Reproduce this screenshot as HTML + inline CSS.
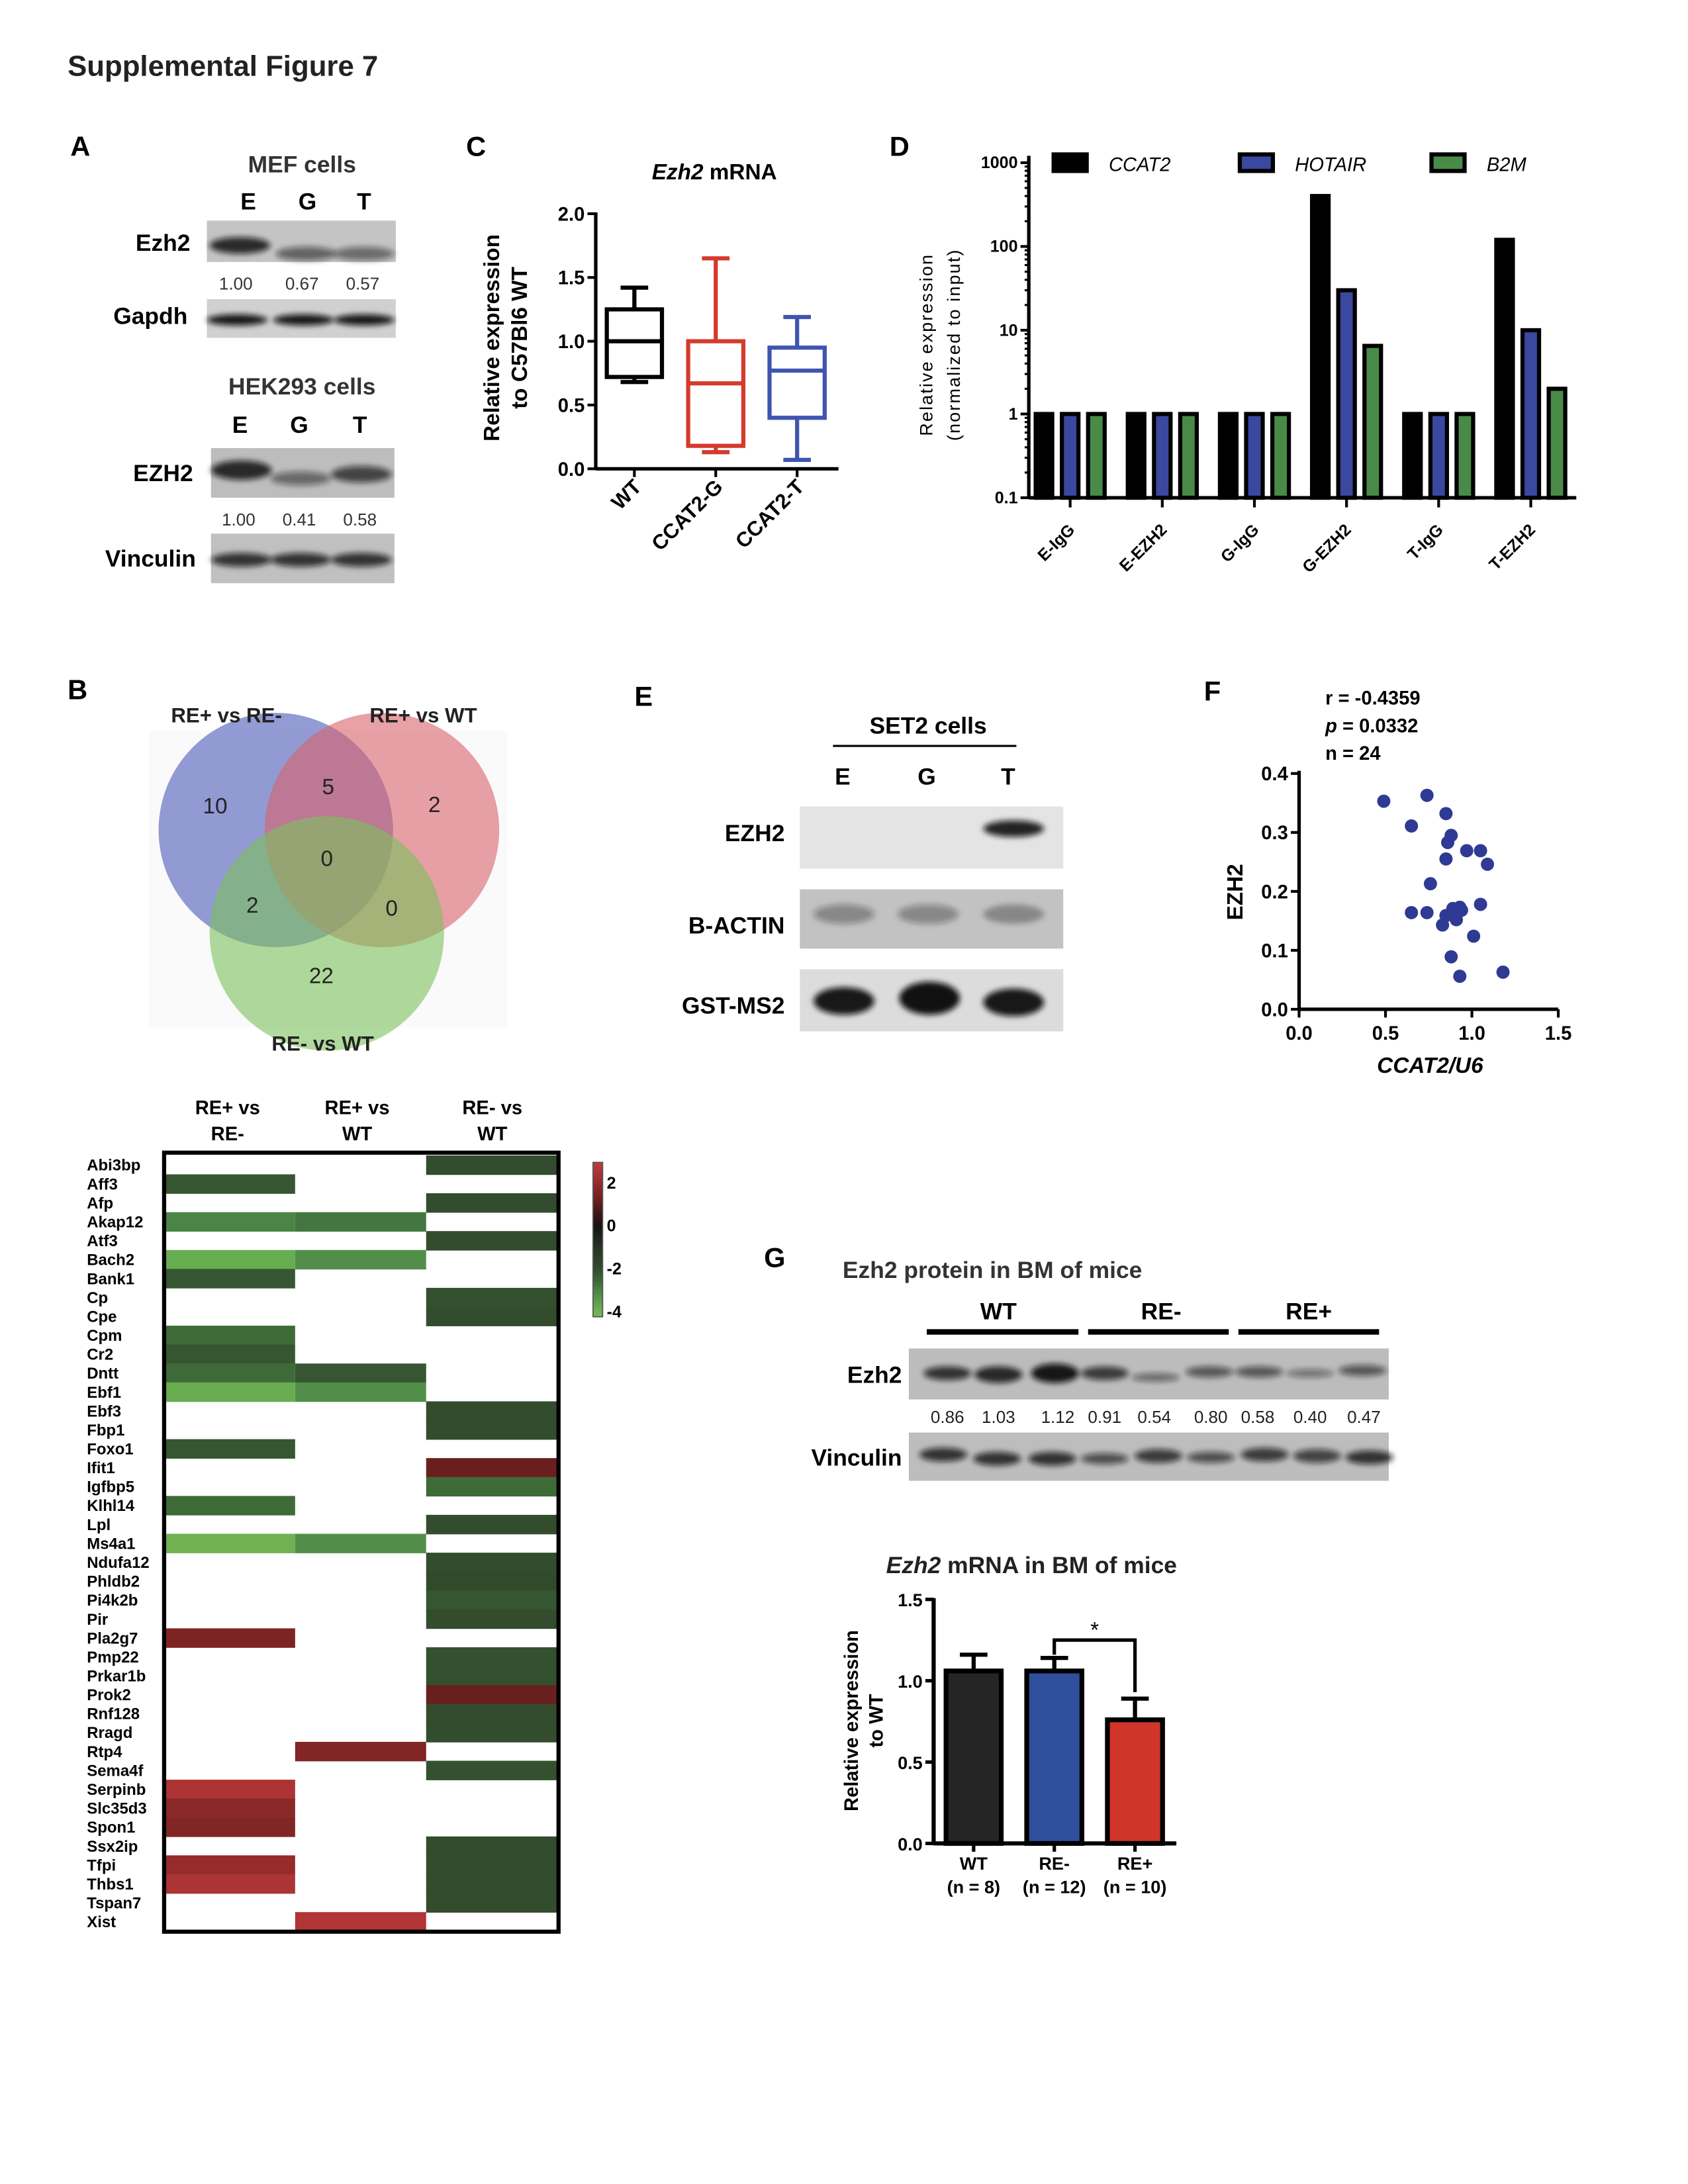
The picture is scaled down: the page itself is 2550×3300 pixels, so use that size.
<!DOCTYPE html>
<html><head><meta charset="utf-8"><style>
html,body{margin:0;padding:0;background:#fff;width:2550px;height:3300px;overflow:hidden}
svg{display:block}
text{font-family:"Liberation Sans",Arial,sans-serif}
.b{font-weight:bold}
</style></head><body>
<svg id="fig" width="2550" height="3300" viewBox="0 0 1224 1584" xmlns="http://www.w3.org/2000/svg">
<defs>
<filter id="blur1" x="-20%" y="-50%" width="140%" height="200%"><feGaussianBlur stdDeviation="2"/></filter>
</defs>
<text x="49" y="55" font-size="21" class="b" fill="#222">Supplemental Figure 7</text>

<text x="51" y="113" font-size="20" class="b">A</text>
<text x="338" y="113" font-size="20" class="b">C</text>
<text x="645" y="113" font-size="20" class="b">D</text>
<text x="49" y="507" font-size="20" class="b">B</text>
<text x="460" y="512" font-size="20" class="b">E</text>
<text x="873" y="508" font-size="20" class="b">F</text>
<text x="554" y="919" font-size="20" class="b">G</text>

<g id="panelA" font-size="17">
<text x="219" y="125" text-anchor="middle" class="b" fill="#333">MEF cells</text>
<text x="180" y="152" text-anchor="middle" class="b">E</text>
<text x="223" y="152" text-anchor="middle" class="b">G</text>
<text x="264" y="152" text-anchor="middle" class="b">T</text>
<text x="138" y="182" text-anchor="end" class="b">Ezh2</text>
<text x="136" y="235" text-anchor="end" class="b">Gapdh</text>
<g font-size="12.5" fill="#333"><text x="171" y="210" text-anchor="middle">1.00</text><text x="219" y="210" text-anchor="middle">0.67</text><text x="263" y="210" text-anchor="middle">0.57</text></g>
<text x="219" y="286" text-anchor="middle" class="b" fill="#333">HEK293 cells</text>
<text x="174" y="314" text-anchor="middle" class="b">E</text>
<text x="217" y="314" text-anchor="middle" class="b">G</text>
<text x="261" y="314" text-anchor="middle" class="b">T</text>
<text x="140" y="349" text-anchor="end" class="b">EZH2</text>
<text x="142" y="411" text-anchor="end" class="b">Vinculin</text>
<g font-size="12.5" fill="#333"><text x="173" y="381" text-anchor="middle">1.00</text><text x="217" y="381" text-anchor="middle">0.41</text><text x="261" y="381" text-anchor="middle">0.58</text></g>
</g>

<g id="panelC">
<text x="518" y="130" text-anchor="middle" font-size="16" class="b"><tspan font-style="italic">Ezh2</tspan> mRNA</text>
<text transform="translate(362,245) rotate(-90)" text-anchor="middle" font-size="16" class="b"><tspan x="0" y="0">Relative expression</tspan><tspan x="0" y="20">to C57Bl6 WT</tspan></text>
</g>

<g id="panelD">
<text transform="translate(676,250) rotate(-90)" text-anchor="middle" font-size="13" letter-spacing="1"><tspan x="0" y="0">Relative expression</tspan><tspan x="0" y="20">(normalized to input)</tspan></text>
</g>

<g id="panelB">
<rect x="108" y="530" width="260" height="215" fill="#f7f7f7" opacity="0.6"/>
<circle cx="200" cy="602" r="85" fill="#6a74c4" fill-opacity="0.72"/>
<circle cx="277" cy="602" r="85" fill="#d8626a" fill-opacity="0.6"/>
<circle cx="237" cy="677" r="85" fill="#7cc25c" fill-opacity="0.6"/>
<g font-size="16" fill="#222">
<text x="124" y="524" class="b" font-size="15">RE+ vs RE-</text>
<text x="268" y="524" class="b" font-size="15">RE+ vs WT</text>
<text x="197" y="762" class="b" font-size="15">RE- vs WT</text>
<text x="156" y="590" text-anchor="middle">10</text>
<text x="238" y="576" text-anchor="middle">5</text>
<text x="315" y="589" text-anchor="middle">2</text>
<text x="237" y="628" text-anchor="middle">0</text>
<text x="183" y="662" text-anchor="middle">2</text>
<text x="284" y="664" text-anchor="middle">0</text>
<text x="233" y="713" text-anchor="middle">22</text>
</g>
</g>

<g id="heatmap">
<g font-size="14" class="b" text-anchor="middle">
<text x="165" y="808"><tspan x="165">RE+ vs</tspan><tspan x="165" dy="19">RE-</tspan></text>
<text x="259" y="808"><tspan x="259">RE+ vs</tspan><tspan x="259" dy="19">WT</tspan></text>
<text x="357" y="808"><tspan x="357">RE- vs</tspan><tspan x="357" dy="19">WT</tspan></text>
</g>
</g>

<g id="panelE" font-size="17" class="b">
<text x="673" y="532" text-anchor="middle" class="b">SET2 cells</text>
<line x1="604" y1="541" x2="737" y2="541" stroke="#000" stroke-width="1.5"/>
<text x="611" y="569" text-anchor="middle" class="b">E</text>
<text x="672" y="569" text-anchor="middle" class="b">G</text>
<text x="731" y="569" text-anchor="middle" class="b">T</text>
<text x="569" y="610" text-anchor="end" class="b">EZH2</text>
<text x="569" y="677" text-anchor="end" class="b">B-ACTIN</text>
<text x="569" y="735" text-anchor="end" class="b">GST-MS2</text>
</g>

<g id="panelF">
<text x="961" y="511" font-size="14" class="b">r = -0.4359</text>
<text x="961" y="531" font-size="14" class="b"><tspan font-style="italic">p</tspan> = 0.0332</text>
<text x="961" y="551" font-size="14" class="b">n = 24</text>
<text transform="translate(901,647) rotate(-90)" text-anchor="middle" font-size="16" class="b">EZH2</text>
<text x="1037" y="778" text-anchor="middle" font-size="16" class="b" font-style="italic">CCAT2/U6</text>
</g>

<g id="panelG">
<text x="611" y="927" font-size="17" class="b" fill="#333">Ezh2 protein in BM of mice</text>
<g font-size="17" class="b" text-anchor="middle">
<text x="724" y="957">WT</text>
<text x="842" y="957">RE-</text>
<text x="949" y="957">RE+</text>
</g>
<rect x="672" y="964" width="110" height="4" fill="#000"/>
<rect x="789" y="964" width="102" height="4" fill="#000"/>
<rect x="898" y="964" width="102" height="4" fill="#000"/>
<text x="654" y="1003" font-size="17" class="b" text-anchor="end">Ezh2</text>
<text x="654" y="1063" font-size="17" class="b" text-anchor="end">Vinculin</text>
<g font-size="12.5" fill="#222" text-anchor="middle">
<text x="687" y="1032">0.86</text><text x="724" y="1032">1.03</text><text x="767" y="1032">1.12</text>
<text x="801" y="1032">0.91</text><text x="837" y="1032">0.54</text><text x="878" y="1032">0.80</text>
<text x="912" y="1032">0.58</text><text x="950" y="1032">0.40</text><text x="989" y="1032">0.47</text>
</g>
<text x="748" y="1141" font-size="17" class="b" text-anchor="middle" fill="#222"><tspan font-style="italic">Ezh2</tspan> mRNA in BM of mice</text>
<text transform="translate(622,1248) rotate(-90)" text-anchor="middle" font-size="14" class="b"><tspan x="0" y="0">Relative expression</tspan><tspan x="0" y="18">to WT</tspan></text>
</g>
</svg>
<script>
var dGroups = ["E-IgG","E-EZH2","G-IgG","G-EZH2","T-IgG","T-EZH2"];
var dCCAT2 = [1,1,1,400,1,120];
var dHOTAIR = [1,1,1,30,1,10];
var dB2M = [1,1,1,6.5,1,2];
var dTicks = [0.1,1,10,100,1000];

var cGroups = ["WT","CCAT2-G","CCAT2-T"];
var cMin = [0.68,0.13,0.07];
var cQ1 = [0.72,0.18,0.40];
var cMed = [1.0,0.67,0.77];
var cQ3 = [1.25,1.0,0.95];
var cMax = [1.42,1.65,1.19];
var cTicks = [0,0.5,1.0,1.5,2.0];

var fX = [0.49,0.74,0.65,0.85,0.88,0.86,0.85,0.97,1.05,1.09,0.76,0.65,0.89,0.93,0.83,0.91,1.05,1.01,0.88,0.93,1.18,0.85,0.74,0.94];
var fY = [0.353,0.363,0.311,0.332,0.295,0.283,0.255,0.269,0.269,0.246,0.213,0.164,0.171,0.173,0.143,0.152,0.178,0.124,0.089,0.056,0.063,0.159,0.164,0.168];
var fXTicks = [0,0.5,1.0,1.5];
var fYTicks = [0,0.1,0.2,0.3,0.4];

var gGroups = ["WT","RE-","RE+"];
var gN = ["(n = 8)","(n = 12)","(n = 10)"];
var gMean = [1.06,1.06,0.76];
var gErr = [0.10,0.08,0.13];
var gTicks = [0,0.5,1.0,1.5];

var hGenes = ["Abi3bp","Aff3","Afp","Akap12","Atf3","Bach2","Bank1","Cp","Cpe","Cpm","Cr2","Dntt","Ebf1","Ebf3","Fbp1","Foxo1","Ifit1","Igfbp5","Klhl14","Lpl","Ms4a1","Ndufa12","Phldb2","Pi4k2b","Pir","Pla2g7","Pmp22","Prkar1b","Prok2","Rnf128","Rragd","Rtp4","Sema4f","Serpinb","Slc35d3","Spon1","Ssx2ip","Tfpi","Thbs1","Tspan7","Xist"];
var hCol1 = [null,-2.2,null,-3,null,-3.8,-2.2,null,null,-2.6,-2.2,-2.6,-3.8,null,null,-2.2,null,null,-2.6,null,-4,null,null,null,null,1.5,null,null,null,null,null,null,null,2.5,1.8,1.6,null,2.0,2.5,null,null];
var hCol2 = [null,null,null,-2.8,null,-3.2,null,null,null,null,null,-2.2,-3.2,null,null,null,null,null,null,null,-3.2,null,null,null,null,null,null,null,null,null,null,1.6,null,null,null,null,null,null,null,null,2.6];
var hCol3 = [-2,null,-2,null,-2,null,null,-2.1,-2,null,null,null,null,-2,-2,null,1.2,-2.6,null,-2,null,-2,-1.9,-2.2,-2,null,-2.1,-2.1,1.2,-2,-2,null,-2.1,null,null,null,-2,-2,-2,-2,null];
var hScale = [2,0,-2,-4];

var SVGNS="http://www.w3.org/2000/svg";
function mk(parent,tag,attrs,txt){var e=document.createElementNS(SVGNS,tag);for(var k in attrs)e.setAttribute(k,attrs[k]);if(txt!==undefined)e.textContent=txt;parent.appendChild(e);return e;}

(function(){
var g=document.getElementById('panelD');
var ax=746,y0=361,dec=60.75;
function yD(v){return y0-(Math.log10(v)+1)*dec;}
var gx0=776,gstep=66.8;
function xD(i){return gx0+i*gstep;}
var ln=mk(g,'line',{x1:ax,y1:113,x2:ax,y2:y0,stroke:'#000','stroke-width':2.5});


var xl=mk(g,'line',{x1:ax,y1:y0,x2:1143,y2:y0,stroke:'#000','stroke-width':2.5});


for(var d=-1;d<3;d++){for(var m=2;m<10;m++){var v=m*Math.pow(10,d);mk(g,'line',{x1:ax-3,x2:ax,y1:yD(v),y2:yD(v),stroke:'#000','stroke-width':1.5});}}
dTicks.forEach(function(t){
 mk(g,'line',{x1:ax-6,x2:ax,y1:yD(t),y2:yD(t),stroke:'#000','stroke-width':2});
 var tx=mk(g,'text',{x:ax-8,y:yD(t)+4,'text-anchor':'end','font-size':12,'class':'b'},String(t));
 
 
});
var series=[[dCCAT2,'#000',-19],[dHOTAIR,'#3a48a0',0],[dB2M,'#4a8a48',19]];
dGroups.forEach(function(name,i){
 mk(g,'line',{x1:xD(i),x2:xD(i),y1:y0,y2:y0+7,stroke:'#000','stroke-width':2});
 series.forEach(function(s,si){
  var v=s[0][i],x=xD(i)+s[2]-6,y=yD(v);
  var r=mk(g,'rect',{x:x,y:y,width:12,height:y0-y,fill:s[1],stroke:'#000','stroke-width':3});
  
  
 });
 var lb=mk(g,'text',{transform:'translate('+(xD(i)+4)+','+(y0+24)+') rotate(-45)','text-anchor':'end','font-size':12,'class':'b'},name);
 
 
});
var leg=[['CCAT2','#000',762],['HOTAIR','#3a48a0',897],['B2M','#4a8a48',1036]];
leg.forEach(function(l){
 var r=mk(g,'rect',{x:l[2]+2,y:112,width:24,height:12,fill:l[1],stroke:'#000','stroke-width':3});
 
 
 var t=mk(g,'text',{x:l[2]+42,y:124,'font-size':14,'font-style':'italic'},l[0]);
 
 
});
})();

(function(){
var g=document.getElementById('panelC');
var ax=432,y0=340,unit=92.5;
function yC(v){return y0-v*unit;}
var cx0=460,cstep=59;
var colors=['#000','#d53a2c','#3e55b0'];
var a=mk(g,'line',{x1:ax,y1:yC(2)-1,x2:ax,y2:y0,stroke:'#000','stroke-width':2.5});


var b=mk(g,'line',{x1:ax,y1:y0,x2:608,y2:y0,stroke:'#000','stroke-width':2.5});


cTicks.forEach(function(t){
 mk(g,'line',{x1:ax-6,x2:ax,y1:yC(t),y2:yC(t),stroke:'#000','stroke-width':2});
 var tx=mk(g,'text',{x:ax-8,y:yC(t)+5,'text-anchor':'end','font-size':14,'class':'b'},t.toFixed(1));
 
 
});
cGroups.forEach(function(name,i){
 var x=cx0+i*cstep,c=colors[i],w=40;
 mk(g,'line',{x1:x,x2:x,y1:y0,y2:y0+6,stroke:'#000','stroke-width':2});
 var bx=mk(g,'g',{stroke:c,'stroke-width':3,fill:'none'});
 
 
 mk(bx,'rect',{x:x-w/2,y:yC(cQ3[i]),width:w,height:yC(cQ1[i])-yC(cQ3[i])});
 mk(bx,'line',{x1:x-w/2,x2:x+w/2,y1:yC(cMed[i]),y2:yC(cMed[i])});
 mk(bx,'line',{x1:x,x2:x,y1:yC(cQ3[i]),y2:yC(cMax[i])});
 mk(bx,'line',{x1:x,x2:x,y1:yC(cQ1[i]),y2:yC(cMin[i])});
 mk(bx,'line',{x1:x-10,x2:x+10,y1:yC(cMax[i]),y2:yC(cMax[i])});
 mk(bx,'line',{x1:x-10,x2:x+10,y1:yC(cMin[i]),y2:yC(cMin[i])});
 var lb=mk(g,'text',{transform:'translate('+(x+6)+','+(y0+14)+') rotate(-45)','text-anchor':'end','font-size':15,'class':'b'},name);
 
 
});
})();

(function(){
var g=document.getElementById('panelF');
var x0=942,y0=732,ux=125.3,uy=427.5;
function xF(v){return x0+v*ux;} function yF(v){return y0-v*uy;}
var a=mk(g,'line',{x1:x0,y1:yF(0.4)-2,x2:x0,y2:y0,stroke:'#000','stroke-width':2.5});


var b=mk(g,'line',{x1:x0,y1:y0,x2:xF(1.5),y2:y0,stroke:'#000','stroke-width':2.5});


fYTicks.forEach(function(t){
 mk(g,'line',{x1:x0-6,x2:x0,y1:yF(t),y2:yF(t),stroke:'#000','stroke-width':2});
 var tx=mk(g,'text',{x:x0-8,y:yF(t)+5,'text-anchor':'end','font-size':14,'class':'b'},t.toFixed(1));
 
 
});
fXTicks.forEach(function(t){
 mk(g,'line',{x1:xF(t),x2:xF(t),y1:y0,y2:y0+6,stroke:'#000','stroke-width':2});
 var tx=mk(g,'text',{x:xF(t),y:y0+22,'text-anchor':'middle','font-size':14,'class':'b'},t.toFixed(1));
 
 
});
fX.forEach(function(v,i){
 var c=mk(g,'circle',{cx:xF(v),cy:yF(fY[i]),r:4.8,fill:'#2f3a94'});
 
 
});
})();

(function(){
var g=document.getElementById('panelG');
var ax=677,y0=1337,unit=118;
function yG(v){return y0-v*unit;}
var cx0=706,cstep=58.5,w=40;
var colors=['#252525','#2f4f9c','#cf3528'];
var a=mk(g,'line',{x1:ax,y1:yG(1.5)-1,x2:ax,y2:y0,stroke:'#000','stroke-width':3});


var b=mk(g,'line',{x1:ax,y1:y0,x2:853,y2:y0,stroke:'#000','stroke-width':3});


gTicks.forEach(function(t){
 mk(g,'line',{x1:ax-6,x2:ax,y1:yG(t),y2:yG(t),stroke:'#000','stroke-width':2.5});
 var tx=mk(g,'text',{x:ax-8,y:yG(t)+5,'text-anchor':'end','font-size':13,'class':'b'},t.toFixed(1));
 
 
});
gGroups.forEach(function(name,i){
 var x=cx0+i*cstep;
 mk(g,'line',{x1:x,x2:x,y1:yG(gMean[i]+gErr[i]),y2:yG(gMean[i]),stroke:'#000','stroke-width':3});
 mk(g,'line',{x1:x-10,x2:x+10,y1:yG(gMean[i]+gErr[i]),y2:yG(gMean[i]+gErr[i]),stroke:'#000','stroke-width':3});
 var r=mk(g,'rect',{x:x-w/2,y:yG(gMean[i]),width:w,height:y0-yG(gMean[i]),fill:colors[i],stroke:'#000','stroke-width':3.5});
 
 
 mk(g,'line',{x1:x,x2:x,y1:y0,y2:y0+6,stroke:'#000','stroke-width':2.5});
 var t=mk(g,'text',{x:x,y:y0+19,'text-anchor':'middle','font-size':13,'class':'b'},name);
 
 
 var t2=mk(g,'text',{x:x,y:y0+36,'text-anchor':'middle','font-size':13,'class':'b'},gN[i]);
 
 
});
var x1=cx0+cstep,x2=cx0+2*cstep,yb=yG(1.25);
var br=mk(g,'polyline',{points:x1+','+yG(1.16)+' '+x1+','+yb+' '+x2+','+yb+' '+x2+','+yG(0.93),fill:'none',stroke:'#000','stroke-width':2.5});


var st=mk(g,'text',{x:(x1+x2)/2,y:yb-2,'text-anchor':'middle','font-size':16},'*');


})();

(function(){
var g=document.getElementById('heatmap');
var left=119,top=838,cw=95,rh=13.72;
var stops=[[3,[196,60,60]],[1.5,[125,35,35]],[0.5,[60,20,20]],[0,[20,20,20]],[-1,[38,52,36]],[-2,[50,76,45]],[-2.6,[62,106,56]],[-3,[74,132,70]],[-3.8,[104,172,80]],[-4.4,[128,190,86]]];
function col(v){
 for(var k=0;k<stops.length-1;k++){
  var a=stops[k],b=stops[k+1];
  if(v<=a[0]&&v>=b[0]){var t=(a[0]-v)/(a[0]-b[0]);return 'rgb('+[0,1,2].map(function(q){return Math.round(a[1][q]+(b[1][q]-a[1][q])*t);}).join(',')+')';}
 }
 return v>0?'rgb(196,60,60)':'rgb(128,190,86)';
}
var cols=[hCol1,hCol2,hCol3];
hGenes.forEach(function(gene,i){
 var y=top+i*rh;
 var t=mk(g,'text',{x:63,y:y+11,'font-size':11.5,'class':'b'},gene);
 
 
 cols.forEach(function(c,j){
  var v=c[i]; if(v===null)return;
  var r=mk(g,'rect',{x:left+j*cw,y:y,width:cw,height:rh+0.4,fill:col(v)});
  
  
 });
});
var fr=mk(g,'rect',{x:left,y:836,width:286,height:565,fill:'none',stroke:'#000','stroke-width':3});


var cbTop=843,cbH=112,vTop=2.9,vBot=-4.3;
function yS(v){return cbTop+(vTop-v)/(vTop-vBot)*cbH;}
for(var k=0;k<56;k++){var v=vTop-(vTop-vBot)*k/56;mk(g,'rect',{x:430,y:yS(v),width:7,height:cbH/56+0.5,fill:col(v)});}
var cbf=mk(g,'rect',{x:430,y:cbTop,width:7,height:cbH,fill:'none',stroke:'#555','stroke-width':0.8});


hScale.forEach(function(s){
 var t=mk(g,'text',{x:440,y:yS(s)+5,'font-size':12,'class':'b'},String(s));
 
 
});
})();

var blots=[
 {n:'mef-ezh2-blot',x:150,y:160,w:137,h:30,bg:'#c4c4c4',bands:[[174,178,0.85,6],[222,184,0.55,5],[264,184,0.5,5]]},
 {n:'mef-gapdh-blot',x:150,y:217,w:137,h:28,bg:'#d0d0d0',bands:[[172,232,0.95,4],[220,232,0.95,4],[264,232,0.95,4]]},
 {n:'hek-ezh2-blot',x:153,y:325,w:133,h:36,bg:'#bdbdbd',bands:[[175,341,0.85,7],[218,347,0.5,5],[262,344,0.7,6]]},
 {n:'hek-vinculin-blot',x:153,y:387,w:133,h:36,bg:'#c0c0c0',bands:[[175,406,0.8,5],[218,406,0.8,5],[262,406,0.8,5]]},
 {n:'set2-ezh2-blot',x:580,y:585,w:191,h:45,bg:'#e4e4e4',bands:[[735,601,0.9,6]]},
 {n:'set2-actin-blot',x:580,y:645,w:191,h:43,bg:'#c2c2c2',bands:[[612,663,0.35,7],[673,663,0.35,7],[735,663,0.3,7]]},
 {n:'set2-gst-ms2-blot',x:580,y:703,w:191,h:45,bg:'#dcdcdc',bands:[[612,726,0.95,10],[674,724,0.98,12],[735,727,0.95,10]]},
 {n:'g-ezh2-blot',x:659,y:978,w:348,h:37,bg:'#bcbcbc',bands:[[687,996,0.8,5],[724,997,0.85,6],[765,996,0.95,7],[801,996,0.75,5],[838,999,0.5,3],[877,995,0.6,4],[913,995,0.6,4],[950,996,0.45,3],[988,994,0.6,4]]},
 {n:'g-vinculin-blot',x:659,y:1039,w:348,h:35,bg:'#bdbdbd',bands:[[684,1055,0.8,5],[723,1058,0.8,5],[763,1058,0.8,5],[801,1058,0.65,4],[840,1056,0.75,5],[878,1057,0.65,4],[917,1055,0.75,5],[955,1056,0.7,5],[993,1057,0.8,5]]}
];
(function(){
var svg=document.getElementById('fig');
blots.forEach(function(b){
 var grp=mk(svg,'g',{});
 
 
 mk(grp,'rect',{x:b.x,y:b.y,width:b.w,height:b.h,fill:b.bg});
 var bw=Math.min(38,b.w/(b.bands.length)-4);
 if(b.bands.length<=3)bw=Math.min(52,bw+6);
 b.bands.forEach(function(d){
  mk(grp,'ellipse',{cx:d[0],cy:d[1],rx:bw/2,ry:d[3],fill:'#111','fill-opacity':d[2],filter:'url(#blur1)'});
 });
});
})();
</script>
</body></html>
